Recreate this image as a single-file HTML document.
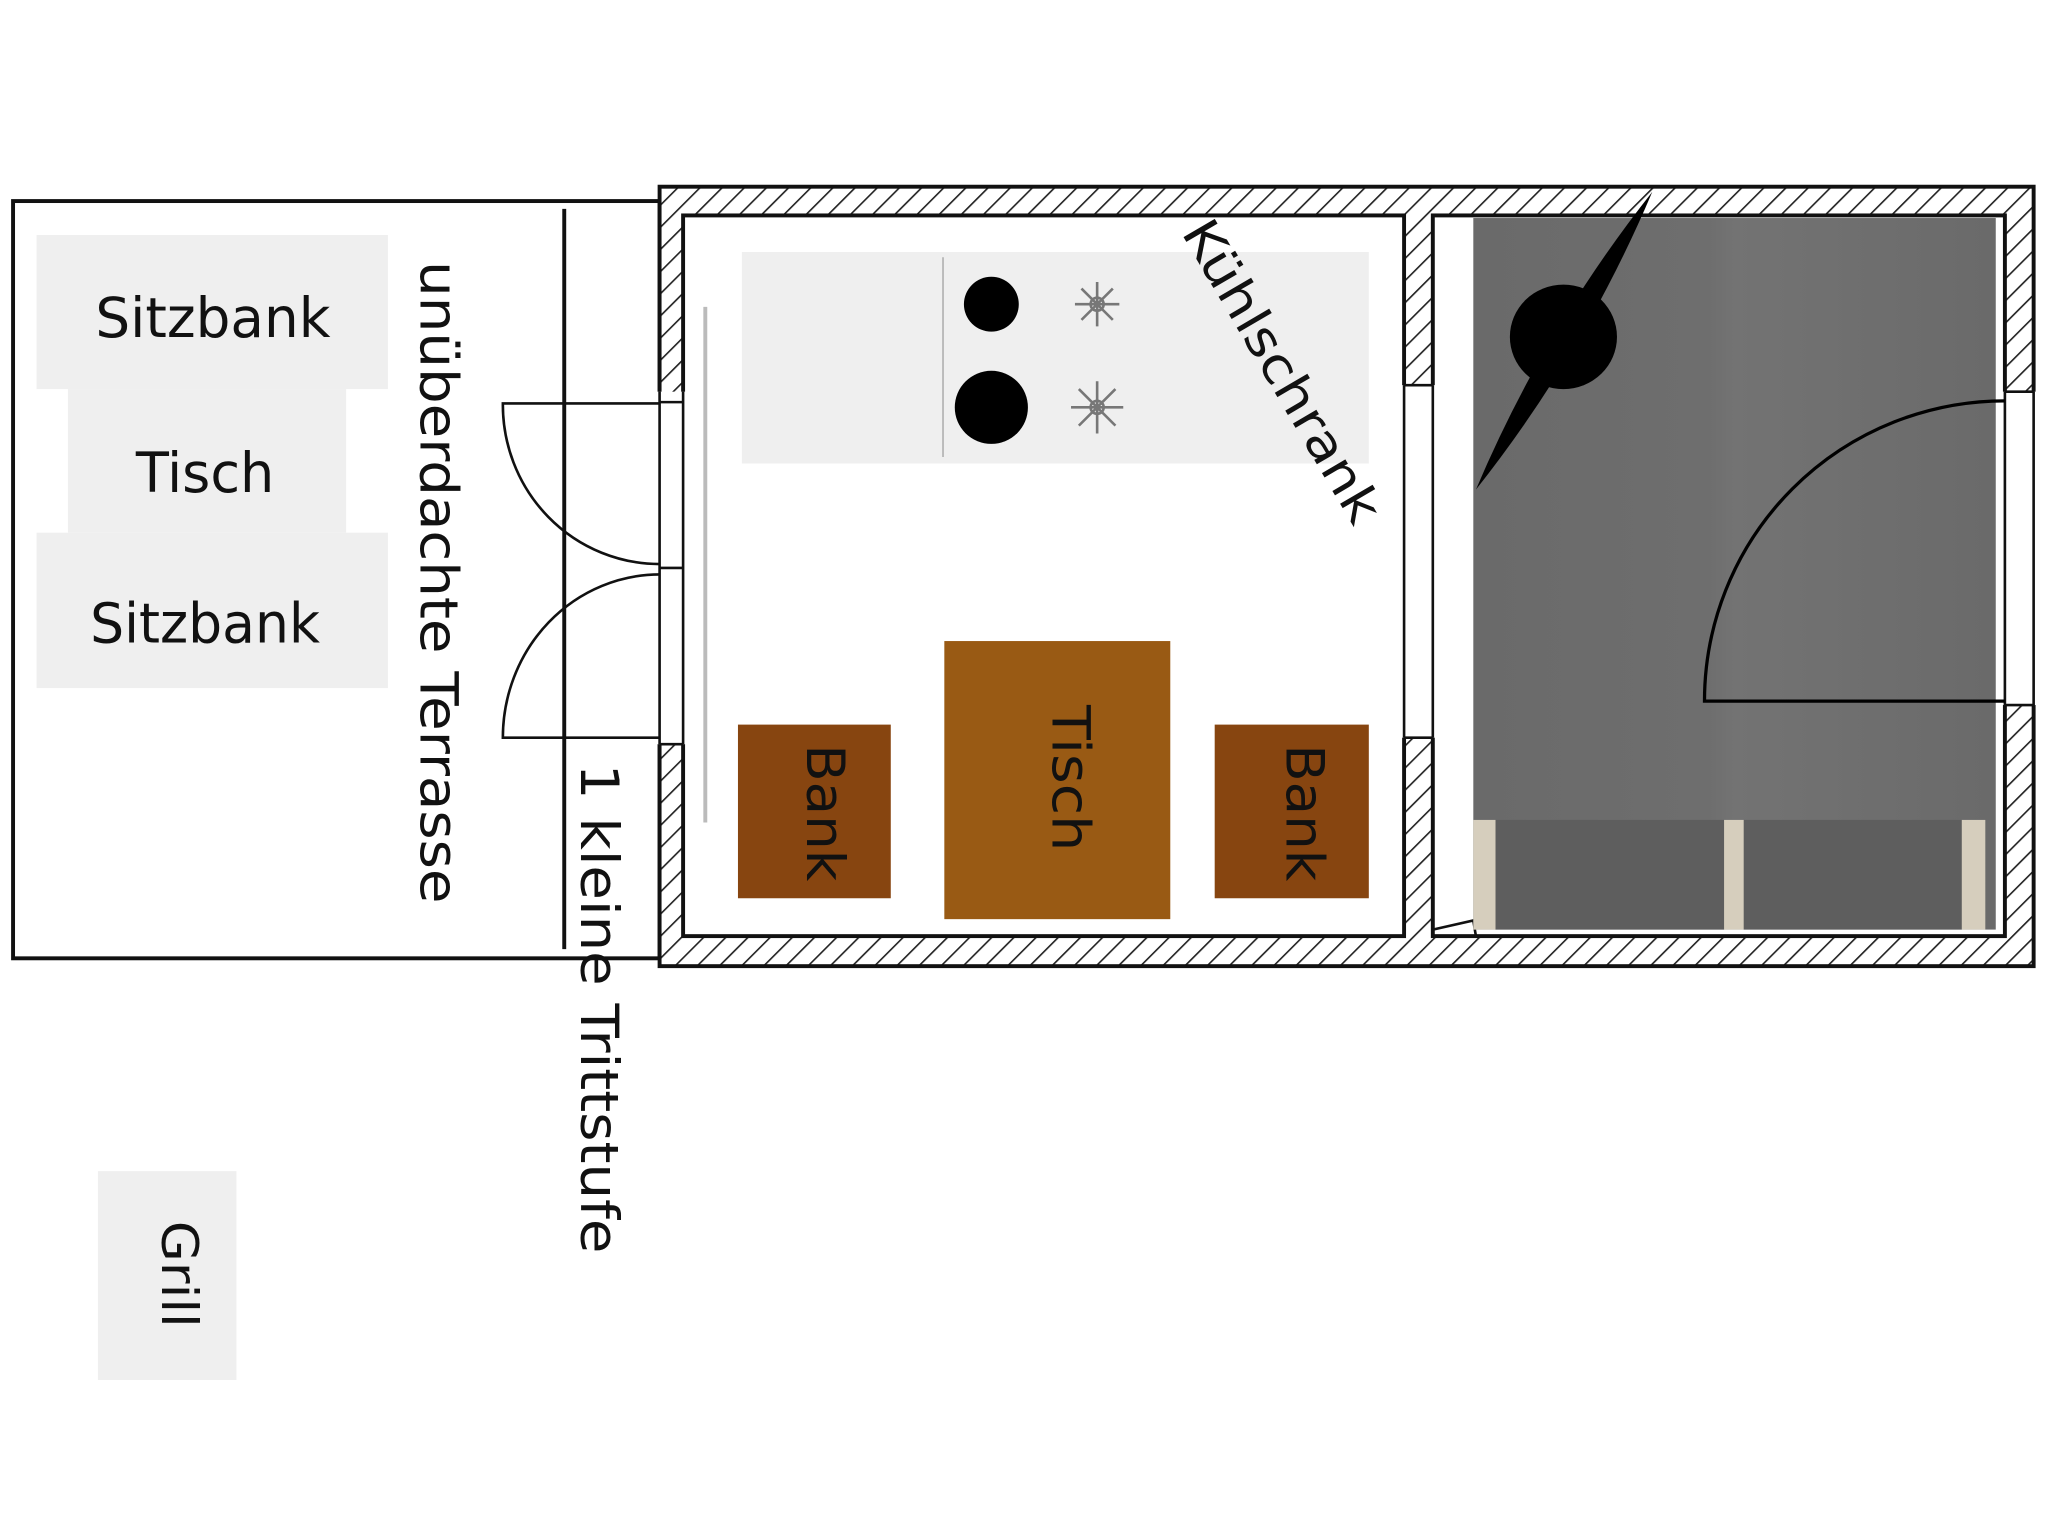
<!DOCTYPE html>
<html><head><meta charset="utf-8"><style>
html,body{margin:0;padding:0;background:#fff;}
svg{display:block;}
text{font-family:"DejaVu Sans","Liberation Sans",sans-serif;fill:#111;}
</style></head><body>
<svg width="2048" height="1538" viewBox="0 0 1568 1178" preserveAspectRatio="none" xmlns="http://www.w3.org/2000/svg">
<defs>
<pattern id="h" patternUnits="userSpaceOnUse" width="12" height="12" patternTransform="rotate(45)">
<rect width="12" height="12" fill="#fff"/>
<line x1="0" y1="0" x2="0" y2="12" stroke="#222" stroke-width="2.5"/>
</pattern>
<linearGradient id="g" x1="0" y1="0" x2="1" y2="0">
<stop offset="0" stop-color="#6a6a6a"/><stop offset="0.45" stop-color="#6e6e6e"/><stop offset="0.5" stop-color="#737373"/><stop offset="1" stop-color="#6a6a6a"/>
</linearGradient>
</defs>
<rect width="1568" height="1178" fill="#fff"/>

<!-- terrace -->
<rect x="10" y="154" width="495" height="580" fill="none" stroke="#111" stroke-width="3"/>
<line x1="432" y1="160" x2="432" y2="727" stroke="#111" stroke-width="3"/>
<rect x="28" y="180" width="269" height="118" fill="#efefef"/>
<rect x="52" y="298" width="213" height="110" fill="#efefef"/>
<rect x="28" y="408" width="269" height="119" fill="#efefef"/>
<text x="163" y="258" font-size="42" text-anchor="middle" textLength="180" lengthAdjust="spacingAndGlyphs">Sitzbank</text>
<text x="157" y="377" font-size="42" text-anchor="middle" textLength="106" lengthAdjust="spacingAndGlyphs">Tisch</text>
<text x="157" y="492" font-size="42" text-anchor="middle" textLength="176" lengthAdjust="spacingAndGlyphs">Sitzbank</text>
<text transform="translate(322,200) rotate(90)" font-size="40" textLength="492" lengthAdjust="spacingAndGlyphs">unüberdachte Terrasse</text>
<text transform="translate(445,585) rotate(90)" font-size="40" textLength="375" lengthAdjust="spacingAndGlyphs">1 kleine Trittstufe</text>

<!-- grill -->
<rect x="75" y="897" width="106" height="160" fill="#efefef"/>
<text transform="translate(124,935) rotate(90)" font-size="38" textLength="82" lengthAdjust="spacingAndGlyphs">Grill</text>

<!-- building walls -->
<rect x="505" y="143" width="1052" height="597" fill="url(#h)" stroke="#111" stroke-width="3"/>
<rect x="523" y="165" width="552" height="552" fill="#fff" stroke="#111" stroke-width="3"/>
<rect x="1097" y="165" width="438" height="552" fill="#fff" stroke="#111" stroke-width="3"/>
<rect x="503" y="300" width="22" height="270" fill="#fff"/>
<path d="M505 300 V570 M523 300 V570 M505 308 H523 M505 435 H523 M505 570 H523" stroke="#111" stroke-width="2" fill="none"/>
<rect x="1073" y="295" width="26" height="270" fill="#fff"/>
<path d="M1075 295 V565 M1097 295 V565 M1075 295 H1097 M1075 565 H1097" stroke="#111" stroke-width="2" fill="none"/>
<rect x="1533" y="300" width="26" height="240" fill="#fff"/>
<path d="M1535 300 V540 M1557 300 V540 M1535 300 H1557 M1535 540 H1557" stroke="#111" stroke-width="2" fill="none"/>
<path d="M1097 712 L1128 705 L1130 717" stroke="#111" stroke-width="2" fill="none"/>

<!-- terrace doors -->
<path d="M505 309 H385 A120 122 0 0 0 505 432" fill="none" stroke="#111" stroke-width="2"/>
<path d="M505 565 H385 A120 125 0 0 1 505 440" fill="none" stroke="#111" stroke-width="2"/>

<!-- kitchen -->
<rect x="568" y="193" width="480" height="162" fill="#efefef"/>
<line x1="722" y1="197" x2="722" y2="350" stroke="#bbb" stroke-width="1.5"/>
<line x1="540" y1="235" x2="540" y2="630" stroke="#bbb" stroke-width="3"/>
<circle cx="759" cy="233" r="21" fill="#000"/>
<circle cx="759" cy="312" r="28" fill="#000"/>
<g stroke="#777" stroke-width="2" fill="none">
<circle cx="840" cy="233" r="5"/><circle cx="840" cy="312" r="5"/>
<path d="M823 233H857M840 216V250M828 221L852 245M828 245L852 221"/>
<path d="M820 312H860M840 292V332M826 298L854 326M826 326L854 298"/>
</g>
<text transform="translate(904,178) rotate(59.6)" font-size="38" textLength="262" lengthAdjust="spacingAndGlyphs">Kühlschrank</text>

<rect x="723" y="491" width="173" height="213" fill="#995a14"/>
<rect x="565" y="555" width="117" height="133" fill="#874510"/>
<rect x="930" y="555" width="118" height="133" fill="#874510"/>
<text transform="translate(806,540) rotate(90)" font-size="40" textLength="112" lengthAdjust="spacingAndGlyphs">Tisch</text>
<text transform="translate(618,570) rotate(90)" font-size="40" textLength="105" lengthAdjust="spacingAndGlyphs">Bank</text>
<text transform="translate(985,570) rotate(90)" font-size="40" textLength="105" lengthAdjust="spacingAndGlyphs">Bank</text>

<!-- right room -->
<rect x="1128" y="167" width="400" height="545" fill="url(#g)"/>
<rect x="1145" y="628" width="175" height="84" fill="#5e5e5e"/>
<rect x="1335" y="628" width="167" height="84" fill="#5e5e5e"/>
<rect x="1128" y="628" width="17" height="84" fill="#d6cebd"/>
<rect x="1320" y="628" width="15" height="84" fill="#d6cebd"/>
<rect x="1502" y="628" width="18" height="84" fill="#d6cebd"/>
<path d="M1535 537 H1305 A230 230 0 0 1 1535 307" fill="none" stroke="#000" stroke-width="2.5"/>
<ellipse cx="1197" cy="258" rx="41" ry="40" fill="#000"/>
<path d="M1265 147 Q1213 270 1130 375 Q1182 252 1265 147 Z" fill="#000"/>
</svg>
</body></html>
